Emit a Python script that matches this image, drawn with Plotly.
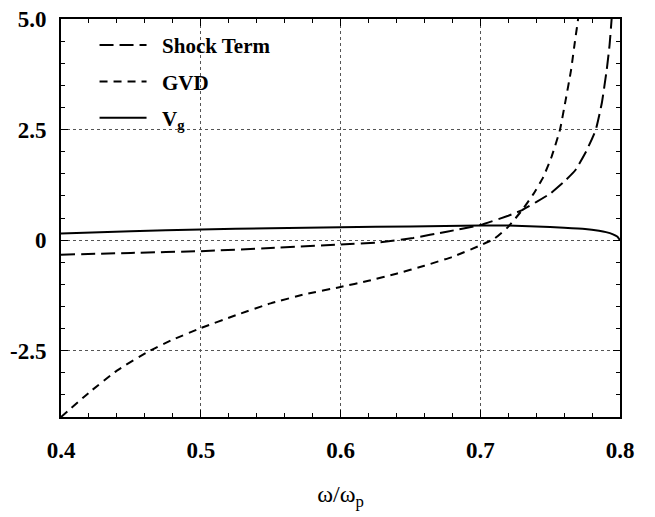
import plotly.graph_objects as go

# ---- data ----
x_shock = [0.40, 0.45, 0.50, 0.55, 0.60, 0.628, 0.652, 0.676, 0.70, 0.72, 0.73, 0.74,
           0.75, 0.76, 0.768, 0.776, 0.7826, 0.787, 0.7905, 0.7925, 0.794, 0.795]
y_shock = [-0.33, -0.29, -0.25, -0.18, -0.10, -0.05, 0.05, 0.19, 0.34, 0.55, 0.68, 0.86,
           1.05, 1.32, 1.58, 2.02, 2.49, 3.10, 3.85, 4.40, 5.0, 5.6]

x_gvd = [0.40, 0.42, 0.44, 0.4637, 0.48, 0.50, 0.525, 0.55, 0.575, 0.60, 0.62, 0.64,
         0.66, 0.68, 0.70, 0.71, 0.72, 0.73, 0.738, 0.745, 0.751, 0.757, 0.761, 0.765,
         0.768, 0.770, 0.771]
y_gvd = [-4.0, -3.45, -2.95, -2.5, -2.25, -1.99, -1.70, -1.43, -1.22, -1.06, -0.92, -0.76,
         -0.58, -0.38, -0.12, 0.03, 0.30, 0.68, 1.04, 1.42, 1.88, 2.49, 3.15, 3.85,
         4.55, 5.0, 5.5]

x_vg = [0.40, 0.45, 0.50, 0.55, 0.60, 0.65, 0.70, 0.72, 0.74, 0.76, 0.775, 0.785,
        0.79, 0.795, 0.798, 0.80]
y_vg = [0.15, 0.20, 0.24, 0.27, 0.29, 0.31, 0.33, 0.33, 0.31, 0.28, 0.25, 0.21,
        0.18, 0.13, 0.08, 0.0]

series_names = ["Shock Term", "GVD", "V<sub>g</sub>"]

y_tickvals = [-2.5, 0, 2.5, 5.0]
y_ticktext = ["-2.5", "0", "2.5", "5.0"]
x_tickvals = [0.4, 0.5, 0.6, 0.7, 0.8]
x_ticktext = ["0.4", "0.5", "0.6", "0.7", "0.8"]

FONT = "Liberation Serif, Times New Roman, serif"
PAD = "\u00a0\u00a0"

fig = go.Figure()
fig.add_trace(go.Scatter(x=x_shock, y=y_shock, mode="lines", name=PAD + series_names[0],
                         legendgroup="a",
                         line=dict(color="black", width=2, dash="14px,6px", shape="spline", smoothing=0.4)))
fig.add_trace(go.Scatter(x=x_gvd, y=y_gvd, mode="lines", name=PAD + series_names[1],
                         legendgroup="b",
                         line=dict(color="black", width=2, dash="8px,6px", shape="spline", smoothing=0.4)))
fig.add_trace(go.Scatter(x=x_vg, y=y_vg, mode="lines", name=PAD + series_names[2],
                         legendgroup="c",
                         line=dict(color="black", width=2, shape="spline", smoothing=0.4)))

axis_common = dict(
    showline=True, linecolor="black", linewidth=2, mirror="ticks",
    ticks="inside", ticklen=7, tickwidth=1, tickcolor="black",
    showgrid=True, gridcolor="#555", griddash="dot", gridwidth=1,
    zeroline=False, automargin=False,
    tickfont=dict(family=FONT, size=23, color="black", weight="bold"),
)

fig.update_xaxes(**axis_common, range=[0.4, 0.8], tickmode="array",
                 tickvals=x_tickvals, ticktext=x_ticktext, ticklabelstandoff=11,
                 minor=dict(tickmode="linear", tick0=0.4, dtick=0.02, ticks="inside",
                            ticklen=4, tickcolor="black", showgrid=False),
                 title=dict(text="ω/ω<sub>p</sub>", standoff=24,
                            font=dict(family=FONT, size=24, color="black")))
fig.update_yaxes(**axis_common, range=[-4, 5], tickmode="array",
                 tickvals=y_tickvals, ticktext=y_ticktext, ticklabelstandoff=8,
                 minor=dict(tickmode="linear", tick0=0, dtick=0.5, ticks="inside",
                            ticklen=4, tickcolor="black", showgrid=False))

fig.update_layout(
    width=655, height=517,
    margin=dict(l=61, r=35, t=19, b=100),
    paper_bgcolor="white", plot_bgcolor="white",
    font=dict(family=FONT, color="black"),
    legend=dict(x=0.06, y=0.985, xanchor="left", yanchor="top",
                bgcolor="rgba(0,0,0,0)", borderwidth=0, tracegroupgap=6,
                itemwidth=47,
                font=dict(family=FONT, size=21, color="black", weight="bold")),
    showlegend=True,
)

fig.write_html("out.html", config={"displayModeBar": False},
               post_script="document.body.style.margin='0';")
